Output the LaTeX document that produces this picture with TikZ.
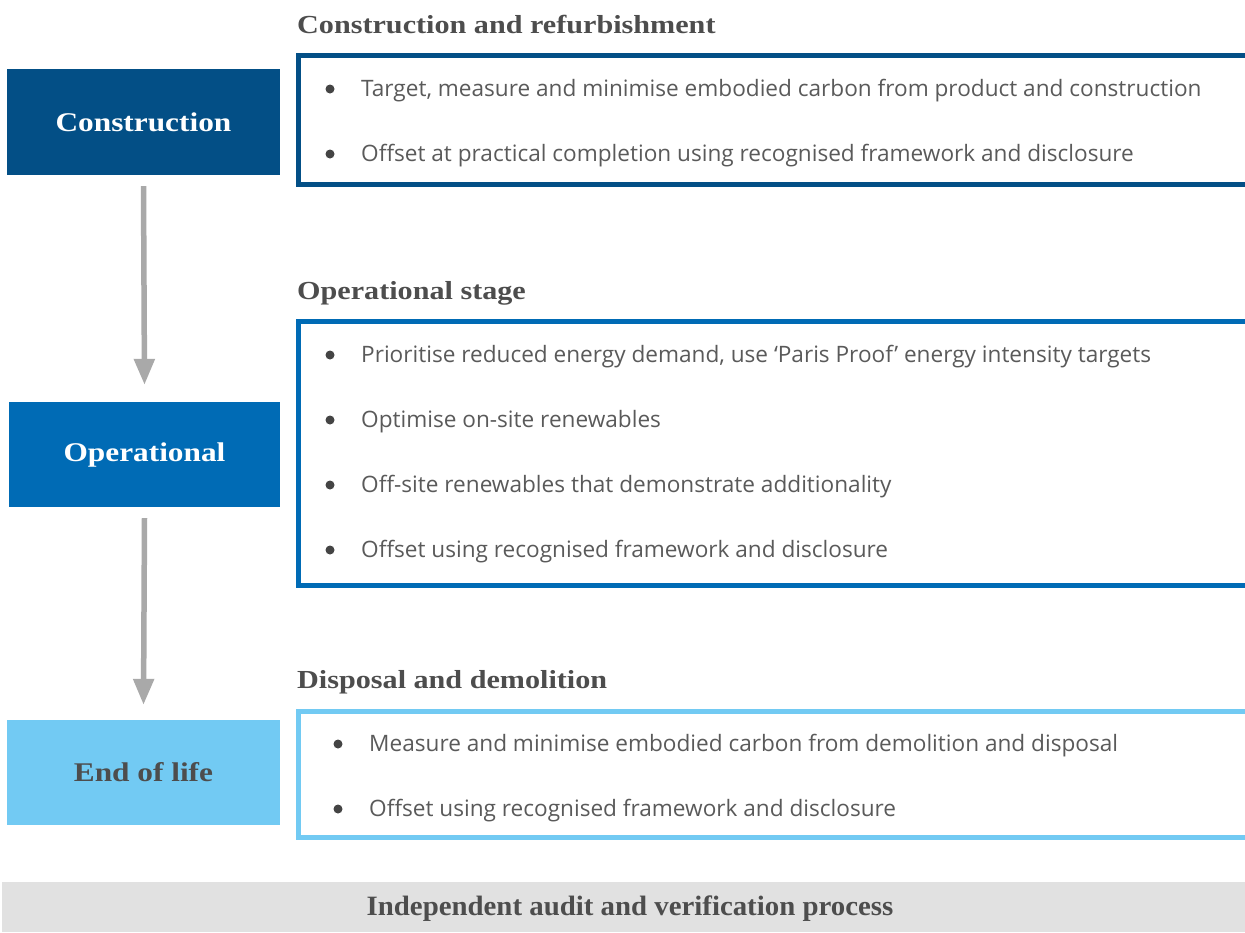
\documentclass[tikz,border=0pt]{standalone}
\usepackage{fontspec}
\setmainfont{Liberation Serif}
\newfontfamily\bodyfont{Open Sans}
\newfontfamily\widefont[FakeStretch=1.16]{Liberation Serif}
\usetikzlibrary{arrows.meta}
\definecolor{cdark}{HTML}{034F86}
\definecolor{cmid}{HTML}{006BB5}
\definecolor{clight}{HTML}{72CAF3}
\definecolor{cgrey}{HTML}{E1E1E1}
\definecolor{carrow}{HTML}{A9A9A9}
\definecolor{ctext}{HTML}{4D4D4D}
\definecolor{cbody}{HTML}{5A5A5A}
\definecolor{cdot}{HTML}{444444}
\tikzset{
  stage/.style={inner sep=0pt, minimum width=273pt, minimum height=106pt, font=\widefont\fontsize{27}{30}\selectfont\bfseries},
  rbox/.style={draw, line width=5pt, inner sep=0pt, fill=white},
  heading/.style={anchor=base west, inner sep=0pt, text=ctext, font=\widefont\fontsize{26}{30}\selectfont\bfseries},
  item/.style={anchor=west, inner sep=0pt, text=cbody, font=\bodyfont\fontsize{22.6}{26}\selectfont},
  dot/.style={circle, fill=cdot, inner sep=0pt, minimum size=9pt},
  flow/.style={draw=carrow, line width=5.5pt, -{Triangle[width=20pt,length=26pt]}},
}
\begin{document}
\begin{tikzpicture}[x=1pt,y=-1pt]
\clip (0,0) rectangle (1245,932);
\fill[white] (0,0) rectangle (1245,932);

% left stage boxes
\node[stage, fill=cdark, text=white] (con) at (143.5,122) {Construction};
\node[stage, fill=cmid, text=white, minimum width=271pt, minimum height=105pt] (op) at (144.5,454.5) {Operational};
\node[stage, fill=clight, text=ctext, minimum height=105pt] (eol) at (143.5,772.5) {End of life};

% arrows
\draw[flow] ([yshift=-11pt]con.south) -- ([yshift=17pt]op.north);
\draw[flow] ([yshift=-11pt]op.south) -- ([yshift=15pt]eol.north);

% headings
\node[heading] (h1) at (297,33) {Construction and refurbishment};
\node[heading] (h2) at (297,299) {Operational stage};
\node[heading] (h3) at (297,688) {Disposal and demolition};

% right boxes
\node[rbox, draw=cdark, minimum width=950.5pt, minimum height=129pt] (b1) at (773.75,120) {};
\node[rbox, draw=cmid, minimum width=950.5pt, minimum height=264pt] (b2) at (773.75,453.5) {};
\node[rbox, draw=clight, minimum width=950.5pt, minimum height=126pt] (b3) at (773.75,774.5) {};

% items box 1
\node[dot] (d11) at (330,89) {};
\node[item] (t11) at (361,91) {Target, measure and minimise embodied carbon from product and construction};
\node[dot] (d12) at (330,154) {};
\node[item] (t12) at (361,156) {Offset at practical completion using recognised framework and disclosure};

% items box 2
\node[dot] (d21) at (330,355) {};
\node[item] (t21) at (361,357) {Prioritise reduced energy demand, use ‘Paris Proof’ energy intensity targets};
\node[dot] (d22) at (330,420) {};
\node[item] (t22) at (361,422) {Optimise on-site renewables};
\node[dot] (d23) at (330,485) {};
\node[item] (t23) at (361,487) {Off-site renewables that demonstrate additionality};
\node[dot] (d24) at (330,550) {};
\node[item] (t24) at (361,552) {Offset using recognised framework and disclosure};

% items box 3
\node[dot] (d31) at (338,744) {};
\node[item] (t31) at (369,746) {Measure and minimise embodied carbon from demolition and disposal};
\node[dot] (d32) at (338,809) {};
\node[item] (t32) at (369,811) {Offset using recognised framework and disclosure};

% bottom bar
\node[fill=cgrey, inner sep=0pt, minimum width=1250pt, minimum height=50pt] (audit) at (627,907) {};
\node[text=ctext, inner sep=0pt, font=\fontsize{28}{30}\selectfont\bfseries] (audittxt) at (630,909)
      {\addfontfeature{FakeStretch=1.03}Independent audit and verification process};
\end{tikzpicture}
\end{document}
